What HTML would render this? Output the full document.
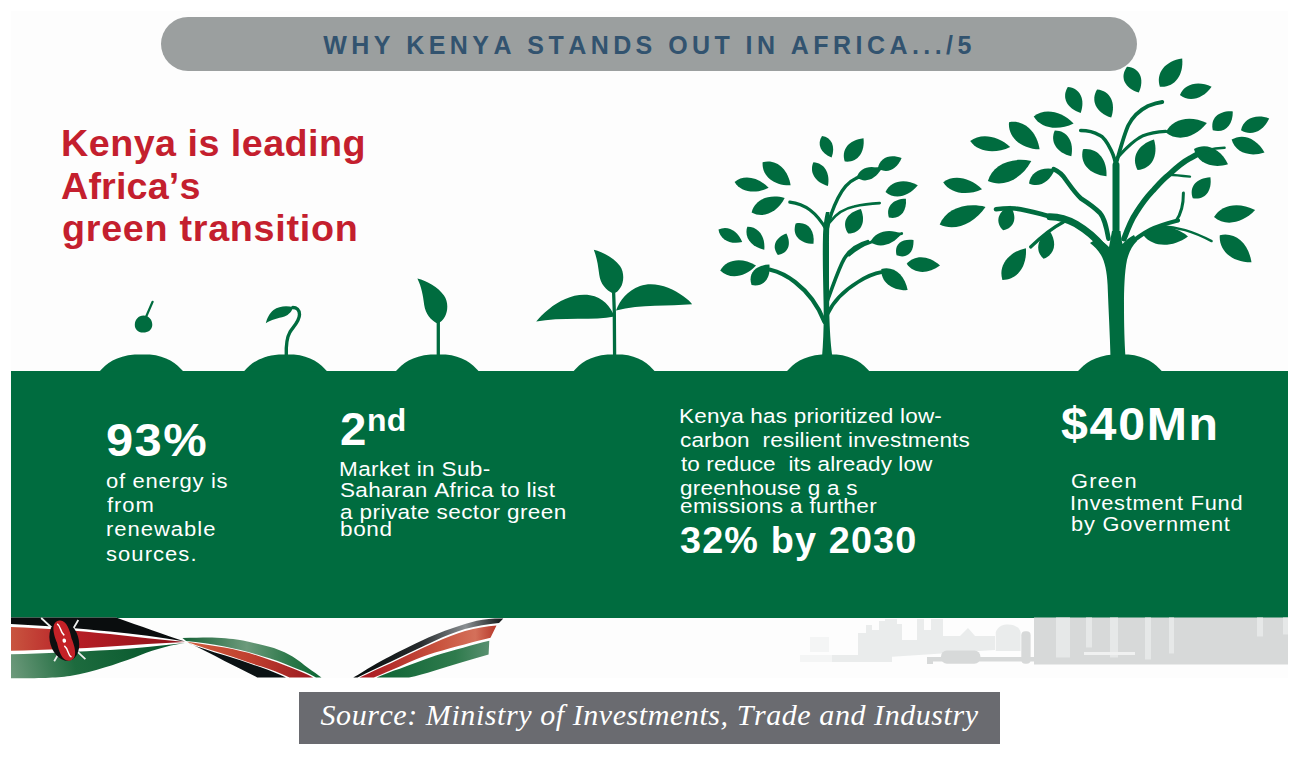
<!DOCTYPE html>
<html><head><meta charset="utf-8">
<style>
*{margin:0;padding:0;box-sizing:border-box}
html,body{width:1294px;height:766px;background:#fff;overflow:hidden}
body{position:relative}
.t{position:absolute;white-space:pre;font-kerning:none;transform-origin:0 0}
.r{font-family:"Liberation Sans",Arial,sans-serif}
.b{font-family:"Liberation Sans",Arial,sans-serif;font-weight:bold}
.s{font-family:"Liberation Serif",serif;font-style:italic}
.pt{color:#32536f}
.rd{color:#c41f2e}
.w{color:#fff}
#panel{position:absolute;left:11px;top:11px;width:1277px;height:667px;background:#fdfdfd}
#pill{position:absolute;left:161px;top:17px;width:976px;height:54px;border-radius:27px;background:#9b9f9f}
#band{position:absolute;left:11px;top:371px;width:1277px;height:247px;background:#006c3f}
#src{position:absolute;left:299px;top:692px;width:701px;height:52px;background:#6a6b70}
svg{position:absolute;left:0;top:0}
</style></head><body>
<div id="panel"></div>
<div id="pill"></div>
<div id="band"></div>
<div id="src"></div>
<!--ART-->
<svg width="1294" height="766" viewBox="0 0 1294 766">
<g fill="#006c3f"><path d="M99.4,371.5C106.1,363.5 116.2,355.9 134.7,354.4L149.8,354.4C166.6,355.9 176.7,363.5 183.4,371.5Z"/><path d="M243.8,371.5C250.5,363.5 260.5,355.9 278.9,354.4L293.9,354.4C310.6,355.9 320.6,363.5 327.3,371.5Z"/><path d="M395.5,371.5C402.2,363.5 412.2,355.9 430.6,354.4L445.6,354.4C462.3,355.9 472.3,363.5 479.0,371.5Z"/><path d="M573.2,371.5C579.7,363.5 589.6,355.9 607.6,354.4L622.3,354.4C638.6,355.9 648.5,363.5 655.0,371.5Z"/><path d="M786.6,371.5C793.2,363.5 803.2,355.9 821.5,354.4L836.5,354.4C853.1,355.9 863.1,363.5 869.7,371.5Z"/><path d="M1077.6,371.5C1084.4,363.5 1094.5,355.9 1113.1,354.4L1128.4,354.4C1145.3,355.9 1155.4,363.5 1162.2,371.5Z"/><path d="M143.5,315.5C149,315.5 152.5,320 152.3,325C152,330 148,332.7 143,332.6C138,332.5 134.6,329 134.8,324.5C135,319.5 138.5,315.5 143.5,315.5Z"/><path d="M293.2,307.3C287,305.5 279,306 273.5,310C269.5,313 267,318.5 265.8,323.3C271,319.5 278,318.5 284.5,316.5C289,315 292,311 293.2,307.3Z"/><path d="M437.5,323.5C431,320.5 425.5,314 424.2,305C423,295 421.5,287 417.4,278.5C427,281 438,287 444,295.5C448.5,302 448,311 445,316.5C443,320 440.5,322.5 437.5,323.5Z"/><path d="M613,293.5C606,290 600.5,284 599.3,275C598,265 597,258 593.8,249.7C603,252 614,258 620,266C624.5,272.5 624,282 620.5,287.5C618.5,291 616,293 613,293.5Z"/><path d="M614.5,316.5C610,306 603,297.5 590,295.3C575,293 560,300 549,309C543.5,313.5 539,318 536.2,321.4C548,319.5 562,318.8 578,318.8C592,318.8 604,318.5 614.5,316.5Z"/><path d="M616,310.5C620,300 627,291 640,286C655,281 672,288 683,296C688,299.5 690.5,302 692.1,304.3C680,305 668,305.5 655,305.8C642,306 628,307.5 616,310.5Z"/><path d="M822,357C823.5,340 824,320 823.5,300C823,275 822.5,255 823,235C823.5,225 824.5,218 826,212L829.5,212C829.5,220 829,232 829,245C829,270 829,300 829.5,320C830,335 831,348 832.5,357Z"/><path d="M822.0,136.0C816.6,144.1 820.7,153.3 831.6,157.4C835.7,146.5 831.6,137.3 822.0,136.0Z"/><path d="M813.4,162.3C808.9,172.2 815.2,182.4 827.9,186.1C830.5,173.1 824.2,162.9 813.4,162.3Z"/><path d="M762.6,162.3C761.7,176.0 773.7,185.9 790.6,185.3C787.9,168.6 775.9,158.7 762.6,162.3Z"/><path d="M734.6,181.9C740.5,192.0 755.2,194.6 768.6,187.8C758.2,176.9 743.6,174.4 734.6,181.9Z"/><path d="M751.6,212.4C763.1,218.8 777.3,212.6 784.7,198.0C768.9,193.5 754.7,199.6 751.6,212.4Z"/><path d="M718.5,229.4C719.8,239.4 730.0,244.9 742.2,242.1C737.8,230.4 727.6,225.0 718.5,229.4Z"/><path d="M747.3,226.8C743.8,237.2 751.2,247.0 764.3,249.7C765.5,236.3 758.2,226.5 747.3,226.8Z"/><path d="M777.9,255.0C788.1,253.6 791.8,244.4 786.4,233.6C775.1,237.8 771.4,247.0 777.9,255.0Z"/><path d="M795.7,223.4C791.7,234.8 799.4,243.5 813.5,243.8C815.1,229.8 807.5,221.0 795.7,223.4Z"/><path d="M844.8,161.5C857.1,162.9 865.1,152.9 863.5,138.2C848.8,139.8 840.8,149.8 844.8,161.5Z"/><path d="M856.7,177.6C864.8,183.5 875.4,179.8 881.3,169.1C870.0,164.3 859.4,168.0 856.7,177.6Z"/><path d="M877.9,168.3C886.7,174.3 896.8,169.9 901.6,158.1C889.8,153.4 879.6,157.8 877.9,168.3Z"/><path d="M885.5,192.0C894.6,200.0 908.5,197.1 917.8,185.3C904.5,178.1 890.6,181.0 885.5,192.0Z"/><path d="M888.9,217.5C899.8,219.9 907.1,211.9 905.9,198.8C892.8,198.8 885.5,206.9 888.9,217.5Z"/><path d="M848.2,233.6C860.9,233.3 866.4,222.7 860.9,209.0C846.5,212.5 841.0,223.1 848.2,233.6Z"/><path d="M870.3,242.1C879.5,248.9 893.0,245.2 901.6,233.6C888.3,227.9 874.8,231.6 870.3,242.1Z"/><path d="M896.6,255.3C906.8,259.1 914.1,252.6 913.5,240.0C901.1,238.2 893.8,244.7 896.6,255.3Z"/><path d="M720.2,270.5C729.5,279.8 744.9,277.6 756.0,265.5C742.0,256.9 726.6,259.0 720.2,270.5Z"/><path d="M751.6,285.0C763.4,287.4 771.0,278.6 769.4,264.6C755.3,264.9 747.6,273.6 751.6,285.0Z"/><path d="M881.3,268.9C880.5,281.7 891.8,290.8 907.6,290.1C905.0,274.5 893.6,265.4 881.3,268.9Z"/><path d="M906.7,263.8C913.5,273.9 927.9,274.6 940.0,265.5C928.8,255.2 914.5,254.5 906.7,263.8Z"/><path d="M1110.5,357.5C1110,335 1108.5,310 1107.6,285C1107,272 1105,262 1101,255C1098,250 1094,246 1090,243L1098,238C1102,241 1106,244 1109,247C1110,242 1111,236 1112,231L1120.5,231C1121,236 1121.5,240 1122.5,244C1126,240 1130,237 1134,235L1137,241C1132,246 1129,252 1127,260C1124.5,272 1124,290 1124,305C1124,325 1124.5,342 1125.5,357.5Z"/><path d="M1067.8,87.0C1061.3,97.4 1066.8,108.5 1080.7,112.9C1085.5,99.2 1080.0,88.0 1067.8,87.0Z"/><path d="M1097.1,89.4C1090.2,100.6 1096.2,112.7 1111.2,117.6C1116.3,102.7 1110.2,90.6 1097.1,89.4Z"/><path d="M1033.7,116.4C1040.7,128.2 1057.8,131.2 1073.6,123.4C1061.4,110.7 1044.3,107.6 1033.7,116.4Z"/><path d="M1009.0,122.3C1007.8,137.2 1021.0,148.8 1039.6,149.3C1036.8,130.9 1023.6,119.3 1009.0,122.3Z"/><path d="M970.2,141.1C977.6,152.0 994.8,154.5 1010.2,146.9C997.6,135.3 980.4,132.8 970.2,141.1Z"/><path d="M1054.8,130.5C1049.6,141.8 1056.7,152.9 1071.3,156.3C1074.3,141.6 1067.2,130.5 1054.8,130.5Z"/><path d="M1083.0,149.3C1079.2,163.1 1089.3,174.7 1106.5,176.3C1107.3,159.0 1097.2,147.4 1083.0,149.3Z"/><path d="M987.9,181.0C1002.8,188.1 1021.4,179.5 1031.3,161.0C1010.8,156.5 992.1,165.1 987.9,181.0Z"/><path d="M1029.0,183.4C1039.0,188.2 1050.1,182.1 1054.8,169.3C1041.5,166.4 1030.4,172.4 1029.0,183.4Z"/><path d="M943.2,182.2C950.0,193.3 966.7,196.3 982.0,189.2C970.1,177.2 953.5,174.2 943.2,182.2Z"/><path d="M939.7,224.5C954.1,231.8 973.8,224.2 985.5,206.9C965.2,201.9 945.5,209.5 939.7,224.5Z"/><path d="M1003.1,230.3C1014.7,227.8 1017.8,217.2 1010.2,205.7C997.7,211.4 994.6,222.0 1003.1,230.3Z"/><path d="M1127.0,66.7C1119.4,77.0 1124.5,88.2 1138.8,92.6C1144.9,78.9 1139.8,67.8 1127.0,66.7Z"/><path d="M1159.9,86.7C1174.2,87.9 1183.8,75.8 1182.2,58.5C1165.0,61.0 1155.4,73.1 1159.9,86.7Z"/><path d="M1179.9,95.0C1189.3,102.6 1203.0,99.0 1211.6,86.7C1198.0,80.2 1184.4,83.8 1179.9,95.0Z"/><path d="M1165.8,132.5C1177.5,142.1 1195.2,138.0 1206.9,123.1C1189.9,114.7 1172.2,118.8 1165.8,132.5Z"/><path d="M1212.8,130.2C1224.4,133.7 1233.0,125.6 1232.8,111.4C1218.6,110.4 1210.0,118.4 1212.8,130.2Z"/><path d="M1241.0,130.2C1251.0,136.6 1263.1,131.5 1269.2,118.4C1255.6,113.6 1243.5,118.6 1241.0,130.2Z"/><path d="M1137.6,170.1C1151.7,169.0 1158.8,155.9 1154.0,139.6C1137.7,144.6 1130.7,157.7 1137.6,170.1Z"/><path d="M1194.0,149.0C1196.9,162.6 1211.5,169.2 1228.0,164.3C1220.7,148.7 1206.1,142.2 1194.0,149.0Z"/><path d="M1231.6,139.6C1235.0,152.2 1249.2,157.7 1264.5,152.5C1256.8,138.3 1242.7,132.7 1231.6,139.6Z"/><path d="M1192.8,198.3C1204.7,200.4 1212.3,191.3 1210.4,177.2C1196.2,177.9 1188.6,187.0 1192.8,198.3Z"/><path d="M1214.0,217.1C1224.9,226.6 1242.6,223.6 1255.1,210.1C1238.8,201.5 1221.2,204.5 1214.0,217.1Z"/><path d="M1002.4,279.9C1017.2,280.0 1027.3,266.4 1025.9,248.2C1008.1,252.2 998.0,265.8 1002.4,279.9Z"/><path d="M1043.5,258.8C1055.0,254.7 1057.6,242.6 1049.4,230.6C1037.1,238.3 1034.6,250.5 1043.5,258.8Z"/><path d="M1143.4,235.3C1152.9,247.5 1172.1,248.0 1188.0,236.4C1172.7,224.1 1153.5,223.6 1143.4,235.3Z"/><path d="M1219.8,235.3C1218.5,250.9 1232.2,262.5 1251.5,262.3C1248.6,243.2 1235.0,231.6 1219.8,235.3Z"/></g>
<g fill="none" stroke="#006c3f" stroke-linecap="round" stroke-linejoin="round"><path d="M146.2,316.5L152.6,301.8" stroke-width="2.2"/><path d="M286.3,355C286,345 286.5,338 290,332C294,326 299.5,321 299.5,314.5C299.5,310 296.5,307.5 292.8,307.5" stroke-width="3.4"/><path d="M438.3,356L438.3,321" stroke-width="3.3"/><path d="M614.6,356L614.3,311L613.6,292" stroke-width="3.3"/><path d="M824.5,322C818,305 808,292 795,282C788,276.5 780,272 770.3,269.7" stroke-width="4.2"/><path d="M827.5,314C834,300 845,290 858,282C866,277 873,273.5 881.3,272.2" stroke-width="3.8"/><path d="M827,302C832,288 836.5,275 842,263C847,252 855,245 867.7,241.7" stroke-width="3.6"/><path d="M826.5,230C822,222 818,216 810,210C803,205 796,203 789.8,202.2" stroke-width="3.2"/><path d="M827.5,228C829.5,218 833,208 838,198C842,190 848,182 855.8,178.5C864,174 872,170 882,168" stroke-width="3.4"/><path d="M830,222C836,214 844,208.5 854.1,206.5C862,204.5 870,203.5 879.6,203.1" stroke-width="2.8"/><path d="M849,255C856,249 862,245 871.1,242.1C880,239.5 890,236 901.6,233.6" stroke-width="3.0"/><path d="M1102,246C1094,236 1086,230 1076,224C1066,218.5 1058,217 1050,216.8" stroke-width="7.0"/><path d="M1052,216.8C1040,214 1028,210 1015,208.5C1008,208 1002,208.5 996,209.2" stroke-width="4.6"/><path d="M1063.5,222C1052,228 1042,236 1030.6,247" stroke-width="3.2"/><path d="M1108.5,238.7C1106.5,228 1104.8,218.6 1100,213C1095,208 1088,203 1081,198.5C1075,193 1071,187 1066,180C1062,174 1058,171 1053.7,169.2" stroke-width="4.6"/><path d="M1116,240L1116,165" stroke-width="7.0"/><path d="M1116,168C1115.5,160 1114,156 1111,150C1107,142 1104,137 1099.5,135.2C1094,132 1088,130.5 1080.7,130.5" stroke-width="3.6"/><path d="M1116.5,162C1120,150 1124,135 1128.2,125.5C1133,116 1140,110 1148,106C1153,104 1158,102.5 1162.3,102" stroke-width="3.8"/><path d="M1117,158C1126,148 1134,140 1142.3,136.1C1150,133 1158,131.8 1165.8,131.4" stroke-width="3.2"/><path d="M1124,238.7C1128,228 1131,220 1135.9,213.1C1141,205 1146,198 1152.4,191.2C1158,185 1163,179 1168.8,174.7C1176,168 1183,162 1190,158.3C1195,155 1200,152.5 1206,150.5" stroke-width="5.6"/><path d="M1206,150.5C1212,149 1218,148 1224.5,147.8" stroke-width="2.6"/><path d="M1168.8,174.7C1176,175 1183,175.8 1190,176.6" stroke-width="2.4"/><path d="M1126.8,246C1134,240 1142,234 1150.5,229.6C1160,225 1170,222.5 1178,220.4" stroke-width="4.2"/><path d="M1176,221C1181,214 1183.5,205 1183.4,193" stroke-width="3.0"/><path d="M1160,226C1178,227 1192,231 1211.6,241.1" stroke-width="2.4"/></g>

<defs>
<linearGradient id="fr1" x1="11" y1="0" x2="185" y2="0" gradientUnits="userSpaceOnUse"><stop offset="0" stop-color="#c8553f"/><stop offset="0.35" stop-color="#b81e26"/><stop offset="1" stop-color="#8e1219"/></linearGradient>
<linearGradient id="fg1" x1="11" y1="678" x2="150" y2="640" gradientUnits="userSpaceOnUse"><stop offset="0" stop-color="#6e9a7c"/><stop offset="0.45" stop-color="#1d6b3e"/><stop offset="1" stop-color="#0a5a2f"/></linearGradient>
<linearGradient id="fg2" x1="185" y1="0" x2="322" y2="0" gradientUnits="userSpaceOnUse"><stop offset="0" stop-color="#1a6439"/><stop offset="0.45" stop-color="#6c9a7b"/><stop offset="0.75" stop-color="#2f7a4c"/><stop offset="1" stop-color="#0b6431"/></linearGradient>
<linearGradient id="fr2" x1="185" y1="0" x2="315" y2="0" gradientUnits="userSpaceOnUse"><stop offset="0" stop-color="#d0603f"/><stop offset="0.5" stop-color="#c0402f"/><stop offset="1" stop-color="#9a1820"/></linearGradient>
<linearGradient id="fk3" x1="353" y1="0" x2="503" y2="0" gradientUnits="userSpaceOnUse"><stop offset="0" stop-color="#050a0a"/><stop offset="0.45" stop-color="#262b2d"/><stop offset="0.75" stop-color="#8a8f92"/><stop offset="1" stop-color="#101414"/></linearGradient>
<linearGradient id="fr3" x1="358" y1="0" x2="496" y2="0" gradientUnits="userSpaceOnUse"><stop offset="0" stop-color="#a8151f"/><stop offset="0.6" stop-color="#c9553f"/><stop offset="0.85" stop-color="#d4705a"/><stop offset="1" stop-color="#b83a2c"/></linearGradient>
<linearGradient id="fg3" x1="375" y1="0" x2="490" y2="0" gradientUnits="userSpaceOnUse"><stop offset="0" stop-color="#0d6434"/><stop offset="0.7" stop-color="#2f7b4d"/><stop offset="1" stop-color="#5a9070"/></linearGradient>
<linearGradient id="fac" x1="800" y1="0" x2="1288" y2="0" gradientUnits="userSpaceOnUse"><stop offset="0" stop-color="#fbfbfb"/><stop offset="0.25" stop-color="#ebeded"/><stop offset="0.5" stop-color="#dfe1e1"/><stop offset="1" stop-color="#d5d8d8"/></linearGradient>
</defs>
<g id="flag">
<!-- segment 1 -->
<path fill="#fff" d="M11,617.5L116,617.5C140,626 165,635 185,641.5C165,645 140,655 120,663C95,672 70,678 40,678.3L11,678.3Z"/>
<path fill="#0a0d0e" d="M11,617.5L116,617.5C140,626 165,635 185,641.5C160,637 135,634 110,631.5C80,628.5 45,625.5 11,624Z"/>
<path fill="url(#fr1)" d="M11,627C45,628.5 80,631 110,634C135,637 160,639.5 185,642C160,643 135,645 110,646.5C80,648.5 45,650 11,650.7Z"/>
<path fill="url(#fg1)" d="M11,654.2C45,653.5 80,651.5 110,650C135,648.5 160,645.5 185,643C165,646 150,651 135,657.2C115,664.5 95,671.3 70,676C55,678 40,678.3 11,678.3Z"/>
<!-- shield -->
<path d="M41.2,618L85.4,659.2M78.3,620L54.2,661.2" stroke="#eef0ee" stroke-width="1.8"/>
<g transform="translate(64.3,640.6) rotate(-17)">
<ellipse cx="0" cy="0" rx="14.3" ry="20.6" fill="#0d0f10"/>
<path fill="#c42127" d="M0,-20.8C8,-20.8 8.5,-9 7.6,0C8.5,9 8,20.8 0,20.8C-8,20.8 -8.5,9 -7.6,0C-8.5,-9 -8,-20.8 0,-20.8Z"/>
<path d="M-2,-18C1.5,-14 -2,-10 1.5,-5M-1.5,5C2,10 -1.5,14 2,18" stroke="#fff" stroke-width="1.5" fill="none"/>
<ellipse cx="0" cy="0" rx="1.8" ry="2.2" fill="#fff"/>
</g>
<!-- segment 2 -->
<path fill="#fff" d="M182.4,638C195,637.5 205,637.3 212.1,637.4C225,638 235,639 243,640.5C255,643 265,645.5 273.9,647.9C282,651 288,653.5 292.5,656.5C298,660 303,664 308.5,668.3C313,671.5 318,675 321.5,677.5L257.2,677.5C245,671 235,666 224.5,660.9C212,654.5 200,648 189.8,643.5Z"/>
<path fill="url(#fg2)" d="M182.4,638C195,637.5 205,637.3 212.1,637.4C225,638 235,639 243,640.5C255,643 265,645.5 273.9,647.9C282,651 288,653.5 292.5,656.5C298,660 303,664 308.5,668.3C313,671.5 318,675 321.5,677.5L316,677.5C308,672.5 300,670 292.5,667C282,662.5 272,658.5 261.6,655.9C250,652.5 237,649 224.5,646.6C212,644 198,642.5 186.1,641.1Z"/>
<path fill="url(#fr2)" d="M187,641.8C198,643.5 212,645.5 224.5,647.6C237,650 250,653 261.6,657C272,660.5 282,664 292.5,668.2C300,671 307,674 313.2,677.5L289.5,677.5C280,673 270,669.5 261.6,666.6C250,663 237,658 224.5,654.3C210,650 198,646 188.6,642.6Z"/>
<path fill="#0b1214" d="M188.6,643.2C198,647 210,651 224.5,655.3C237,659 250,663.5 261.6,667.6C270,670.5 278,674 286,677.5L257.2,677.5C245,671 235,666 224.5,660.9C212,654.5 200,648 189.8,643.5Z"/>
<!-- segment 3 -->
<path fill="#fff" d="M353.2,677.6C360,673.5 366,669.5 372.4,665.9C378,662.5 384,659 390.7,655.9C396,653 402,650 409,646.7C418,642.5 426,638.5 435,634.8C448,629.5 462,624.5 476.8,620.8C485,619 494,618.5 503.3,618.6L495.9,626L489.3,639.2L488.6,654.6C470,660 452,665.5 435,670.5C425,673.5 417,676 409,677.6Z"/>
<path fill="url(#fk3)" d="M353.2,677.6C360,673.5 366,669.5 372.4,665.9C378,662.5 384,659 390.7,655.9C396,653 402,650 409,646.7C418,642.5 426,638.5 435,634.8C448,629.5 462,624.5 476.8,620.8C485,619 494,618.5 503.3,618.6L499,623C488,624 476,626 465,629C455,632 445,636 435,640.7C420,647.5 405,655 390.7,661.7C380,666.5 368,672 357.5,677.6Z"/>
<path fill="url(#fr3)" d="M359.5,677.6C370,672.5 380,668 390.7,663.2C405,656.5 420,649 435,642.5C445,638 455,634 465,631C476,628 486,626.5 496.5,625.5L490.5,637.8C475,641.5 455,647 435,652.5C420,657 410,662 399.8,666.5C390,670.5 382,674 373.8,677.6Z"/>
<path fill="url(#fg3)" d="M376.6,677.6C385,674 392,671 399.8,668.7C412,664 424,659.5 435,655.7C455,650 472,645 489.3,640.8L488.6,654.6C470,660 452,665.5 435,670.5C425,673.5 417,676 409,677.6Z"/>
</g>


<g id="fact">
<g fill="#f4f5f5">
<rect x="810" y="637" width="19" height="15"/>
<path d="M800,662L800,655L850,655L850,662Z"/>
</g>
<g fill="#eaecec">
<path d="M858,659L858,633L866,633L866,625L872,625L872,630L879,630L879,621L885,621L885,619L897,619L897,624L902,624L902,640L917,640L917,619L924,619L924,630L931,630L931,619L943,619L943,636L960,636L968,628L975,636L995,636L995,650L858,659Z"/>
<path d="M995.8,651L995.8,632C998,626 1003,624.4 1008,624.4C1014,624.4 1019,627 1020.6,632L1020.6,651Z"/>
<rect x="832" y="655" width="60" height="7"/>
</g>
<g fill="#d7d9d9">
<rect x="941" y="650.6" width="39.4" height="13.2" rx="6"/>
<rect x="927" y="657" width="173" height="4.5"/>
<rect x="927" y="660" width="6" height="4"/>
<rect x="1021.3" y="631.3" width="9.3" height="32.5" rx="4"/>
<path d="M1034,617.5L1288,617.5L1288,664.5L1034,664.5Z"/>
</g>
<g fill="#e6e8e8">
<rect x="1056" y="617.5" width="14" height="40"/>
<rect x="1086" y="617.5" width="6" height="30"/>
<rect x="1110" y="617.5" width="8" height="40"/>
<rect x="1145" y="617.5" width="6" height="42"/>
<rect x="1169" y="617.5" width="5" height="36"/>
<rect x="1257" y="617.5" width="6" height="19"/>
<rect x="1283" y="617.5" width="5" height="17"/>
</g>
<g fill="#f0f1f1">
<rect x="1084" y="652" width="28" height="3"/>
<rect x="1110" y="652" width="25" height="3"/>
</g>
</g>

</svg>
<!--/ART-->
<div class="t b pt" style="left:323.2px;top:32.5px;font-size:25px;line-height:25px;letter-spacing:4.44px">WHY KENYA STANDS OUT IN AFRICA.../5</div>
<div class="t b rd" style="left:60.7px;top:125.0px;font-size:37px;line-height:37px;letter-spacing:0.44px;transform:scaleX(1.02)">Kenya is leading</div>
<div class="t b rd" style="left:60.6px;top:167.5px;font-size:37px;line-height:37px;letter-spacing:0.13px;transform:scaleX(1.02)">Africa’s</div>
<div class="t b rd" style="left:61.5px;top:210.4px;font-size:37px;line-height:37px;letter-spacing:0.69px;transform:scaleX(1.02)">green transition</div>
<div class="t w b" style="left:105.5px;top:416.1px;font-size:47px;line-height:47px;letter-spacing:1.37px;transform:scaleX(1.04)">93%</div>
<div class="t w r" style="left:106.0px;top:471.0px;font-size:20px;line-height:20px;letter-spacing:0.65px;transform:scaleX(1.1)">of energy is</div>
<div class="t w r" style="left:106.6px;top:495.3px;font-size:20px;line-height:20px;letter-spacing:0.87px;transform:scaleX(1.1)">from</div>
<div class="t w r" style="left:105.5px;top:519.3px;font-size:20px;line-height:20px;letter-spacing:0.90px;transform:scaleX(1.1)">renewable</div>
<div class="t w r" style="left:106.2px;top:544.0px;font-size:20px;line-height:20px;letter-spacing:0.96px;transform:scaleX(1.1)">sources.</div>
<div class="t w b" style="left:339.6px;top:405.7px;font-size:46px;line-height:46px;letter-spacing:0.00px;transform:scaleX(1.03)">2</div>
<div class="t w b" style="left:366.8px;top:405.3px;font-size:31px;line-height:31px;letter-spacing:0.18px;transform:scaleX(1.03)">nd</div>
<div class="t w r" style="left:339.2px;top:458.6px;font-size:20.5px;line-height:20px;letter-spacing:0.32px;transform:scaleX(1.1)">Market in Sub-</div>
<div class="t w r" style="left:340.1px;top:480.0px;font-size:20.5px;line-height:20px;letter-spacing:0.30px;transform:scaleX(1.1)">Saharan Africa to list</div>
<div class="t w r" style="left:340.1px;top:501.5px;font-size:20.5px;line-height:20px;letter-spacing:0.35px;transform:scaleX(1.1)">a private sector green</div>
<div class="t w r" style="left:339.7px;top:518.5px;font-size:20.5px;line-height:20px;letter-spacing:0.58px;transform:scaleX(1.1)">bond</div>
<div class="t w r" style="left:679.0px;top:406.0px;font-size:20.5px;line-height:20px;letter-spacing:0.17px;transform:scaleX(1.1)">Kenya has prioritized low-</div>
<div class="t w r" style="left:679.9px;top:429.8px;font-size:20.5px;line-height:20px;letter-spacing:0.13px;transform:scaleX(1.1)">carbon  resilient investments</div>
<div class="t w r" style="left:680.6px;top:454.2px;font-size:20.5px;line-height:20px;letter-spacing:0.07px;transform:scaleX(1.1)">to reduce  its already low</div>
<div class="t w r" style="left:679.9px;top:478.3px;font-size:20.5px;line-height:20px;letter-spacing:0.19px;transform:scaleX(1.1)">greenhouse g a s</div>
<div class="t w r" style="left:679.9px;top:496.0px;font-size:20.5px;line-height:20px;letter-spacing:0.31px;transform:scaleX(1.1)">emissions a further</div>
<div class="t w b" style="left:680.2px;top:523.1px;font-size:36px;line-height:36px;letter-spacing:1.09px;transform:scaleX(1.05)">32% by 2030</div>
<div class="t w b" style="left:1060.8px;top:401.2px;font-size:46px;line-height:46px;letter-spacing:1.62px;transform:scaleX(1.05)">$40Mn</div>
<div class="t w r" style="left:1070.8px;top:470.9px;font-size:19.8px;line-height:20px;letter-spacing:1.15px;transform:scaleX(1.1)">Green</div>
<div class="t w r" style="left:1069.9px;top:492.6px;font-size:19.8px;line-height:20px;letter-spacing:0.68px;transform:scaleX(1.1)">Investment Fund</div>
<div class="t w r" style="left:1070.5px;top:513.8px;font-size:19.8px;line-height:20px;letter-spacing:0.77px;transform:scaleX(1.1)">by Government</div>
<div class="t w s" style="left:320.5px;top:700.2px;font-size:30px;line-height:30px;letter-spacing:0.57px">Source: Ministry of Investments, Trade and Industry</div>
</body></html>
